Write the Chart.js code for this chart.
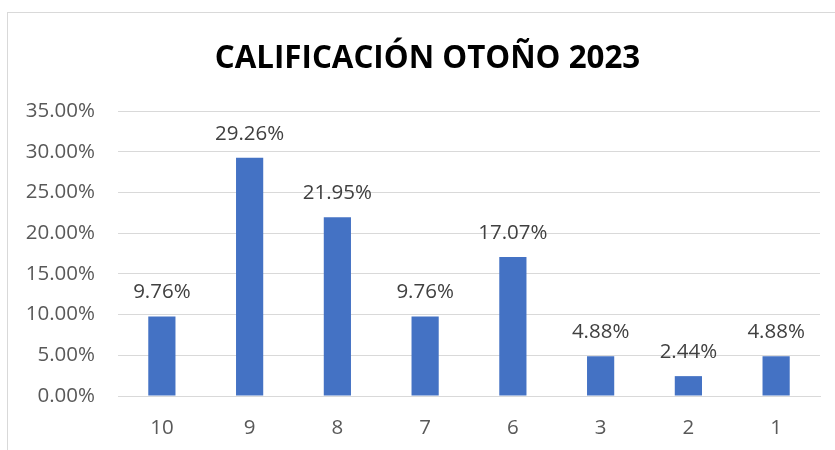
<!DOCTYPE html>
<html>
<head>
<meta charset="utf-8">
<script src="https://cdn.jsdelivr.net/npm/chart.js@4"></script>
<style>
  body { margin: 0; background: #fff; overflow: hidden; }
  #wrap { position: relative; width: 835px; height: 450px; }
  #frame { position: absolute; left: 7px; top: 12px; width: 900px; height: 500px; border: 1px solid #d9d9d9; }
  #chart { position: absolute; left: 0; top: 0; }
</style>
</head>
<body>
<div id="wrap">
  <div id="frame"></div>
  <canvas id="chart" width="835" height="450"></canvas>
</div>
<script>
// grades and share of students
const grades = ['10', '9', '8', '7', '6', '3', '2', '1'];
const shares = [9.76, 29.26, 21.95, 9.76, 17.07, 4.88, 2.44, 4.88];
const yTicks = [0, 5, 10, 15, 20, 25, 30, 35];
const chartTitle = 'CALIFICACIÓN OTOÑO 2023';

const fontName = "'Open Sans', sans-serif";

// title drawn by hand so it sits centred on the whole frame
const titleDraw = {
    id: 'titleDraw',
    afterDraw(chart) {
        const ctx = chart.ctx;
        ctx.save();
        ctx.font = 'bold 31.3px ' + fontName;
        ctx.fillStyle = '#000';
        ctx.textAlign = 'center';
        ctx.textBaseline = 'alphabetic';
        ctx.fillText(chartTitle, 427.5, 68);
        ctx.restore();
    }
};

// draw the value above each bar
const barLabels = {
    id: 'barLabels',
    afterDatasetsDraw(chart) {
        const ctx = chart.ctx;
        const meta = chart.getDatasetMeta(0);
        ctx.save();
        ctx.font = '20.5px ' + fontName;
        ctx.fillStyle = '#404040';
        ctx.textAlign = 'center';
        ctx.textBaseline = 'middle';
        meta.data.forEach((bar, i) => {
            ctx.fillText(shares[i].toFixed(2) + '%', bar.x, bar.y - 24);
        });
        ctx.restore();
    }
};

new Chart(document.getElementById('chart'), {
    type: 'bar',
    data: {
        labels: grades,
        datasets: [{
            data: shares,
            backgroundColor: '#4472c4',
            barPercentage: 0.62,
            categoryPercentage: 0.5
        }]
    },
    options: {
        responsive: false,
        animation: false,
        layout: { padding: { left: 0, right: 15, top: 111, bottom: 10 } },
        plugins: {
            legend: { display: false },
            tooltip: { enabled: false },
            title: { display: false }
        },
        scales: {
            x: {
                afterFit(scale) { scale.height = 44; },
                grid: { display: false, drawTicks: false },
                border: { color: '#d9d9d9', width: 1 },
                ticks: { color: '#595959', font: { family: fontName, size: 20.5 }, padding: 20 }
            },
            y: {
                min: 0,
                max: 35,
                afterFit(scale) { scale.width = 118; },
                afterBuildTicks(scale) { scale.ticks = yTicks.map(v => ({ value: v })); },
                grid: { color: '#d9d9d9', lineWidth: 1, drawTicks: false },
                border: { display: false },
                ticks: {
                    color: '#595959',
                    font: { family: fontName, size: 20.5 },
                    padding: 23,
                    callback: v => v.toFixed(2) + '%'
                }
            }
        }
    },
    plugins: [barLabels, titleDraw]
});
</script>
</body>
</html>
